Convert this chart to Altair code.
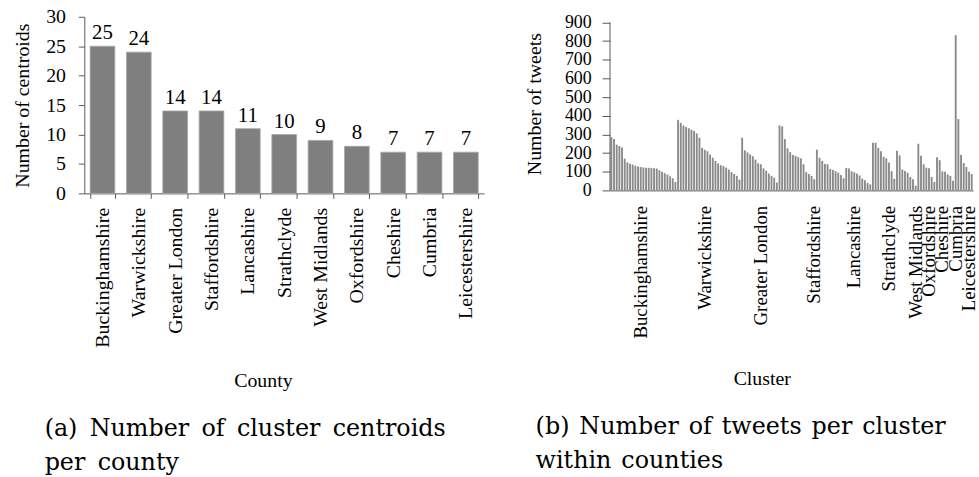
import altair as alt
import pandas as pd

counties = ["Buckinghamshire", "Warwickshire", "Greater London", "Staffordshire",
            "Lancashire", "Strathclyde", "West Midlands", "Oxfordshire",
            "Cheshire", "Cumbria", "Leicestershire"]
centroids = [25, 24, 14, 14, 11, 10, 9, 8, 7, 7, 7]

tw_buckinghamshire = [285, 275, 245, 238, 230, 170, 150, 143, 138, 132, 128, 125, 123,
                      122, 121, 120, 118, 117, 108, 100, 92, 85, 75, 65, 45]
tw_warwickshire = [378, 362, 348, 340, 333, 325, 318, 305, 282, 228, 218, 210, 192,
                   175, 158, 145, 135, 130, 122, 112, 98, 88, 78, 58]
tw_greater_london = [282, 215, 203, 193, 183, 165, 145, 140, 118, 105, 90, 78, 68, 42]
tw_staffordshire = [348, 343, 275, 225, 205, 190, 185, 178, 172, 140, 98, 88, 78, 60]
tw_lancashire = [218, 175, 158, 142, 140, 115, 110, 103, 95, 82, 65]
tw_strathclyde = [120, 118, 103, 97, 90, 80, 63, 55, 40, 32]
tw_west_midlands = [255, 255, 228, 210, 180, 172, 150, 103, 62]
tw_oxfordshire = [212, 188, 112, 104, 95, 72, 60, 25]
tw_cheshire = [250, 185, 140, 122, 118, 72, 45]
tw_cumbria = [178, 162, 102, 100, 86, 78, 52]
tw_leicestershire = [832, 382, 190, 147, 125, 100, 88]

tweet_groups = [tw_buckinghamshire, tw_warwickshire, tw_greater_london, tw_staffordshire,
                tw_lancashire, tw_strathclyde, tw_west_midlands, tw_oxfordshire,
                tw_cheshire, tw_cumbria, tw_leicestershire]

# cluster index at which each county label is drawn on the right chart
label_index = [11, 35, 56, 76, 91, 104, 114, 119, 124, 129, 134]

y_ticks_left = [0, 5, 10, 15, 20, 25, 30]
y_ticks_right = [0, 100, 200, 300, 400, 500, 600, 700, 800, 900]
y_axis_top_right = [900]

caption_a = ["(a) Number of cluster centroids", "per county"]
caption_b = ["(b) Number of tweets per cluster", "within counties"]

SERIF = "Liberation Serif"
AXIS_COL = "#595959"


def widen(lines, gap):
    return [ln.replace(" ", " " + gap) for ln in lines]


df_left = pd.DataFrame({"county": counties, "centroids": centroids})

rows = []
i = 0
for c, vals in zip(counties, tweet_groups):
    for v in vals:
        rows.append({"idx": i, "county": c, "tweets": v})
        i += 1
df_right = pd.DataFrame(rows)

# ---------------- left chart ----------------
xl = alt.X("county:N", sort=counties,
           scale=alt.Scale(paddingInner=0.32, paddingOuter=0.16),
           axis=alt.Axis(title="County", labelAngle=-90, labelAlign="right",
                         labelBaseline="middle", tickBand="extent", tickSize=5,
                         labelPadding=9, titlePadding=24, titleX=180,
                         labelOverlap=False))
yl = alt.Y("centroids:Q", scale=alt.Scale(domain=[0, 30], nice=False),
           axis=alt.Axis(title="Number of centroids", values=y_ticks_left,
                         grid=False, tickSize=6, labelPadding=13, titlePadding=13,
                         labelOverlap=False))

base_l = alt.Chart(df_left).encode(x=xl, y=yl)
bars_l = base_l.mark_bar(color="#7f7f7f", stroke="#a8a8a8", strokeWidth=0.8)
text_l = base_l.mark_text(font=SERIF, fontSize=21, dy=-7, baseline="alphabetic",
                          color="black").encode(text="centroids:Q")

left = alt.layer(bars_l, text_l).properties(
    width=403, height=178,
    title=alt.TitleParams(text=widen(caption_a, "\u2009"),
                          orient="bottom", anchor="start", frame="group",
                          dx=-40, offset=27, font="DejaVu Serif", fontSize=24,
                          fontWeight="normal", lineHeight=34, baseline="top",
                          color="black"))

# ---------------- right chart ----------------
names_js = "[" + ",".join("'%s'" % c for c in counties) + "]"
idx_js = "[" + ",".join(str(k) for k in label_index) + "]"
label_expr = f"{names_js}[indexof({idx_js}, datum.value)]"

yscale_r = alt.Scale(domain=[0, 930], nice=False)
yaxis_r = alt.Axis(title="Number of tweets", values=y_ticks_right, grid=False,
                   domain=False, tickSize=8, labelPadding=11, titlePadding=20,
                   labelOverlap=False, labelFontSize=18)

xr = alt.X("idx:O",
           scale=alt.Scale(paddingInner=0.3, paddingOuter=0.15),
           axis=alt.Axis(title="Cluster", values=label_index, labelExpr=label_expr,
                         labelAngle=-90, labelAlign="right", labelBaseline="middle",
                         ticks=False, labelPadding=15, titlePadding=31, titleX=153,
                         labelOverlap=False, labelFontSize=19))

bars_r = alt.Chart(df_right).mark_bar(color="#8a8a8a").encode(
    x=xr, y=alt.Y("tweets:Q", scale=yscale_r, axis=yaxis_r))
dom_r = alt.Chart(pd.DataFrame({"y0": [0], "y1": y_axis_top_right})).mark_rule(
    color=AXIS_COL, strokeWidth=1).encode(
    x=alt.value(0),
    y=alt.Y("y0:Q", scale=yscale_r, axis=yaxis_r),
    y2="y1:Q")

right = alt.layer(bars_r, dom_r).properties(
    width=366, height=175,
    title=alt.TitleParams(text=widen(caption_b, "\u200a"),
                          orient="bottom", anchor="start", frame="group",
                          dx=-75, offset=27, font="DejaVu Serif", fontSize=24,
                          fontWeight="normal", lineHeight=34, baseline="top",
                          color="black"))

chart = alt.hconcat(left, right, spacing=41).properties(
    padding={"left": 13, "top": 5, "right": 0, "bottom": 0},
    background="white"
).configure_view(stroke=None).configure_axis(
    labelFont=SERIF, labelFontSize=20, labelColor="black",
    titleFont=SERIF, titleFontSize=20, titleFontWeight="normal", titleColor="black",
    domainColor=AXIS_COL, tickColor=AXIS_COL
)

chart.save("out.html", embed_options={"renderer": "svg", "actions": False})
